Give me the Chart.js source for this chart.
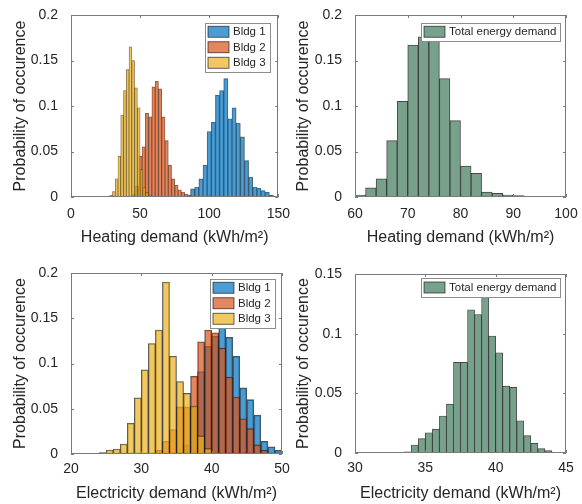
<!DOCTYPE html>
<html>
<head>
<meta charset="utf-8">
<title>Demand distributions</title>
<script src="https://cdn.jsdelivr.net/npm/chart.js@4.4.1/dist/chart.umd.min.js"></script>
<style>
  body { margin: 0; background: #fff; }
  #wrap { position: relative; width: 582px; height: 504px; }
  canvas { position: absolute; }
</style>
</head>
<body>
<div id="wrap">
  <canvas id="heatBldgs" width="291" height="252" style="left:0;top:0"></canvas>
  <canvas id="heatTotal" width="291" height="252" style="left:291px;top:0"></canvas>
  <canvas id="elecBldgs" width="291" height="252" style="left:0;top:252px"></canvas>
  <canvas id="elecTotal" width="291" height="252" style="left:291px;top:252px"></canvas>
</div>
<script>
// tick labels
const probTicks = [0, 0.05, 0.1, 0.15, 0.2];
const probTicksElecTotal = [0, 0.05, 0.1, 0.15];
const heatTicks = [0, 50, 100, 150];
const heatTotalTicks = [60, 70, 80, 90, 100];
const elecTicks = [20, 30, 40, 50];
const elecTotalTicks = [30, 35, 40, 45];

const buildings = ['Bldg 1', 'Bldg 2', 'Bldg 3'];
const totalLabel = 'Total energy demand';

// histograms: first bin edge, bin width, probability of each bin
const heatBldg1Edge = 86.5, heatBldg1Bin = 3;
const heatBldg1 = [0.009, 0.011, 0.020, 0.035, 0.072, 0.082, 0.112, 0.117, 0.130, 0.086, 0.098, 0.081, 0.066, 0.040, 0.022, 0.011, 0.0095, 0.007, 0.005, 0.002];
const heatBldg2Edge = 44.3, heatBldg2Bin = 2.37;
const heatBldg2 = [0.003, 0.012, 0.045, 0.055, 0.092, 0.088, 0.121, 0.127, 0.119, 0.088, 0.062, 0.035, 0.020, 0.013, 0.008, 0.0055, 0.003, 0.002];
const heatBldg3Edge = 28, heatBldg3Bin = 2;
const heatBldg3 = [0.002, 0.006, 0.020, 0.045, 0.090, 0.117, 0.140, 0.165, 0.150, 0.120, 0.098, 0.030, 0.010, 0.005, 0.002];
const heatTotalEdge = 60, heatTotalBin = 2;
const heatTotal = [0.002, 0.010, 0.020, 0.062, 0.105, 0.167, 0.176, 0.178, 0.130, 0.084, 0.034, 0.026, 0.0055, 0.004, 0.002, 0.0015];

const elecBldg1Edge = 35, elecBldg1Bin = 1;
const elecBldg1 = [0.002, 0.010, 0.052, 0.091, 0.119, 0.130, 0.143, 0.129, 0.108, 0.073, 0.060, 0.043, 0.014, 0.008, 0.004];
const elecBldg2Edge = 32, elecBldg2Bin = 1;
const elecBldg2 = [0.004, 0.014, 0.027, 0.052, 0.052, 0.086, 0.124, 0.137, 0.134, 0.117, 0.085, 0.063, 0.039, 0.028, 0.010, 0.004];
const elecBldg3Edge = 24, elecBldg3Bin = 1;
const elecBldg3 = [0.0015, 0.0044, 0.0055, 0.011, 0.034, 0.062, 0.093, 0.122, 0.137, 0.190, 0.108, 0.080, 0.067, 0.053, 0.020, 0.006];
const elecTotalEdge = 33.5, elecTotalBin = 0.5;
const elecTotal = [0.001, 0.0067, 0.012, 0.017, 0.020, 0.031, 0.041, 0.076, 0.076, 0.120, 0.116, 0.131, 0.098, 0.084, 0.056, 0.055, 0.027, 0.0145, 0.008, 0.0036, 0.002];

const FONT = "'Liberation Sans', Arial, Helvetica, sans-serif";
const INK = '#262626';
const BLUE = 'rgba(0,114,189,0.7)';
const ORANGE = 'rgba(217,83,25,0.7)';
const YELLOW = 'rgba(237,177,32,0.7)';
const GREEN = 'rgb(120,161,140)';

Chart.defaults.font.family = FONT;
Chart.defaults.color = INK;

function bars(values, edge, bin) {
  return values.map((p, i) => ({ x: edge + (i + 0.5) * bin, y: p }));
}

// box + inward ticks on all four sides, like matlab axes
const matlabAxes = {
  id: 'matlabAxes',
  afterDatasetsDraw(chart) {
    const { ctx, chartArea: a } = chart;
    const x = chart.scales.x0, y = chart.scales.y;
    const L = 3;
    ctx.save();
    ctx.strokeStyle = '#7a7a7a';
    ctx.lineWidth = 1;
    ctx.beginPath();
    x.ticks.forEach(t => {
      const px = Math.round(x.getPixelForValue(t.value)) + 0.5;
      ctx.moveTo(px, a.bottom); ctx.lineTo(px, a.bottom - L);
      ctx.moveTo(px, a.top); ctx.lineTo(px, a.top + L);
    });
    y.ticks.forEach(t => {
      const py = Math.round(y.getPixelForValue(t.value)) + 0.5;
      ctx.moveTo(a.left, py); ctx.lineTo(a.left + L, py);
      ctx.moveTo(a.right, py); ctx.lineTo(a.right - L, py);
    });
    ctx.stroke();
    ctx.strokeRect(Math.round(a.left) + 0.5, Math.round(a.top) + 0.5, Math.round(a.width) - 1, Math.round(a.height) - 1);
    ctx.restore();
  }
};

// legend drawn inside the plot, top right, with a frame
const boxLegend = {
  id: 'boxLegend',
  afterDraw(chart, args, opts) {
    const { ctx, chartArea: a } = chart;
    const sets = chart.data.datasets;
    ctx.save();
    ctx.font = opts.fontSize + 'px ' + FONT;
    const textW = Math.max(...sets.map(d => ctx.measureText(d.label).width));
    const w = Math.round(3 + 21 + 4 + textW + 4);
    const h = Math.round(sets.length * opts.rowH + 2);
    const x0 = Math.round(a.right - opts.right - w);
    const y0 = Math.round(a.top + opts.top);
    ctx.fillStyle = '#fff';
    ctx.fillRect(x0, y0, w, h);
    ctx.strokeStyle = '#8c8c8c';
    ctx.lineWidth = 1;
    ctx.strokeRect(x0 + 0.5, y0 + 0.5, w, h);
    sets.forEach((d, i) => {
      const cy = y0 + 1 + opts.rowH * (i + 0.5);
      ctx.fillStyle = d.backgroundColor;
      ctx.fillRect(x0 + 3, cy - 5.5, 21, 11);
      ctx.strokeStyle = 'rgba(20,20,20,0.8)';
      ctx.lineWidth = 0.8;
      ctx.strokeRect(x0 + 3, cy - 5.5, 21, 11);
      ctx.fillStyle = INK;
      ctx.textBaseline = 'middle';
      ctx.fillText(d.label, x0 + 28, cy + 0.5);
    });
    ctx.restore();
  }
};

Chart.register(matlabAxes, boxLegend);

function histChart(canvasId, o) {
  const scales = {
    y: {
      type: 'linear', position: 'left', min: 0, max: o.yMax,
      grid: { display: false }, border: { display: false },
      afterBuildTicks: s => { s.ticks = o.yTicks.map(v => ({ value: v })); },
      afterFit: s => { s.width = o.yWidth; },
      ticks: { font: { size: 14 }, padding: 5, callback: v => String(v) },
      title: { display: true, text: 'Probability of occurence', font: { size: 16 }, padding: { top: o.yTitlePad, bottom: 0 } }
    }
  };
  const n = o.series.length;
  const datasets = o.series.map((s, i) => {
    const id = 'x' + i;
    scales[id] = {
      type: 'linear', axis: 'x', position: 'bottom', min: o.xMin, max: o.xMax,
      offset: false, display: i === 0,
      grid: { display: false, offset: false }, border: { display: false },
      afterBuildTicks: sc => { sc.ticks = o.xTicks.map(v => ({ value: v })); },
      afterFit: sc => { if (i === 0) sc.height = o.xHeight; },
      ticks: { font: { size: 14 }, padding: o.xTickPad, autoSkip: false, maxRotation: 0 },
      title: { display: true, text: o.xTitle, font: { size: 16 }, padding: { top: 0, bottom: o.xTitlePad } }
    };
    return {
      label: s.label,
      data: bars(s.values, s.edge, s.bin),
      xAxisID: id,
      order: n - i,
      backgroundColor: s.color,
      borderColor: o.barEdge,
      borderWidth: o.barBorder,
      borderSkipped: false,
      categoryPercentage: 1,
      barPercentage: 1,
      grouped: false
    };
  });

  return new Chart(document.getElementById(canvasId), {
    type: 'bar',
    data: { datasets },
    options: {
      responsive: false,
      animation: false,
      devicePixelRatio: 1,
      layout: { padding: o.padding },
      scales,
      plugins: {
        legend: { display: false },
        tooltip: { enabled: false },
        boxLegend: o.legend
      }
    }
  });
}

histChart('heatBldgs', {
  xMin: 0, xMax: 150, xTicks: heatTicks, yMax: 0.2, yTicks: probTicks,
  xTitle: 'Heating demand (kWh/m²)',
  padding: { left: 0, top: 15, right: 9, bottom: 0 }, yWidth: 71, xHeight: 55, yTitlePad: 11, xTitlePad: 5, xTickPad: 1,
  barBorder: 0.5, barEdge: 'rgba(25,25,25,0.65)',
  legend: { right: 8, top: 8, rowH: 15.5, fontSize: 11.5 },
  series: [
    { label: buildings[0], values: heatBldg1, edge: heatBldg1Edge, bin: heatBldg1Bin, color: BLUE },
    { label: buildings[1], values: heatBldg2, edge: heatBldg2Edge, bin: heatBldg2Bin, color: ORANGE },
    { label: buildings[2], values: heatBldg3, edge: heatBldg3Edge, bin: heatBldg3Bin, color: YELLOW }
  ]
});

histChart('heatTotal', {
  xMin: 60, xMax: 100, xTicks: heatTotalTicks, yMax: 0.2, yTicks: probTicks,
  xTitle: 'Heating demand (kWh/m²)',
  padding: { left: 0, top: 15, right: 16, bottom: 0 }, yWidth: 64, xHeight: 55, yTitlePad: 3, xTitlePad: 5, xTickPad: 1,
  barBorder: 1, barEdge: 'rgba(25,25,25,0.8)',
  legend: { right: 6, top: 8, rowH: 15.5, fontSize: 11.5 },
  series: [
    { label: totalLabel, values: heatTotal, edge: heatTotalEdge, bin: heatTotalBin, color: GREEN }
  ]
});

histChart('elecBldgs', {
  xMin: 20, xMax: 50, xTicks: elecTicks, yMax: 0.2, yTicks: probTicks,
  xTitle: 'Electricity demand (kWh/m²)',
  padding: { left: 0, top: 21, right: 9, bottom: 0 }, yWidth: 71, xHeight: 50, yTitlePad: 11, xTitlePad: 1, xTickPad: -1,
  barBorder: 0.9, barEdge: 'rgba(25,25,25,0.75)',
  legend: { right: 7, top: 6, rowH: 15.5, fontSize: 11.5 },
  series: [
    { label: buildings[0], values: elecBldg1, edge: elecBldg1Edge, bin: elecBldg1Bin, color: BLUE },
    { label: buildings[1], values: elecBldg2, edge: elecBldg2Edge, bin: elecBldg2Bin, color: ORANGE },
    { label: buildings[2], values: elecBldg3, edge: elecBldg3Edge, bin: elecBldg3Bin, color: YELLOW }
  ]
});

histChart('elecTotal', {
  xMin: 30, xMax: 45, xTicks: elecTotalTicks, yMax: 0.15, yTicks: probTicksElecTotal,
  xTitle: 'Electricity demand (kWh/m²)',
  padding: { left: 0, top: 22, right: 16, bottom: 0 }, yWidth: 64, xHeight: 51, yTitlePad: 3, xTitlePad: 1, xTickPad: -1,
  barBorder: 0.9, barEdge: 'rgba(25,25,25,0.8)',
  legend: { right: 6, top: 4, rowH: 17, fontSize: 11.5 },
  series: [
    { label: totalLabel, values: elecTotal, edge: elecTotalEdge, bin: elecTotalBin, color: GREEN }
  ]
});
</script>
</body>
</html>
